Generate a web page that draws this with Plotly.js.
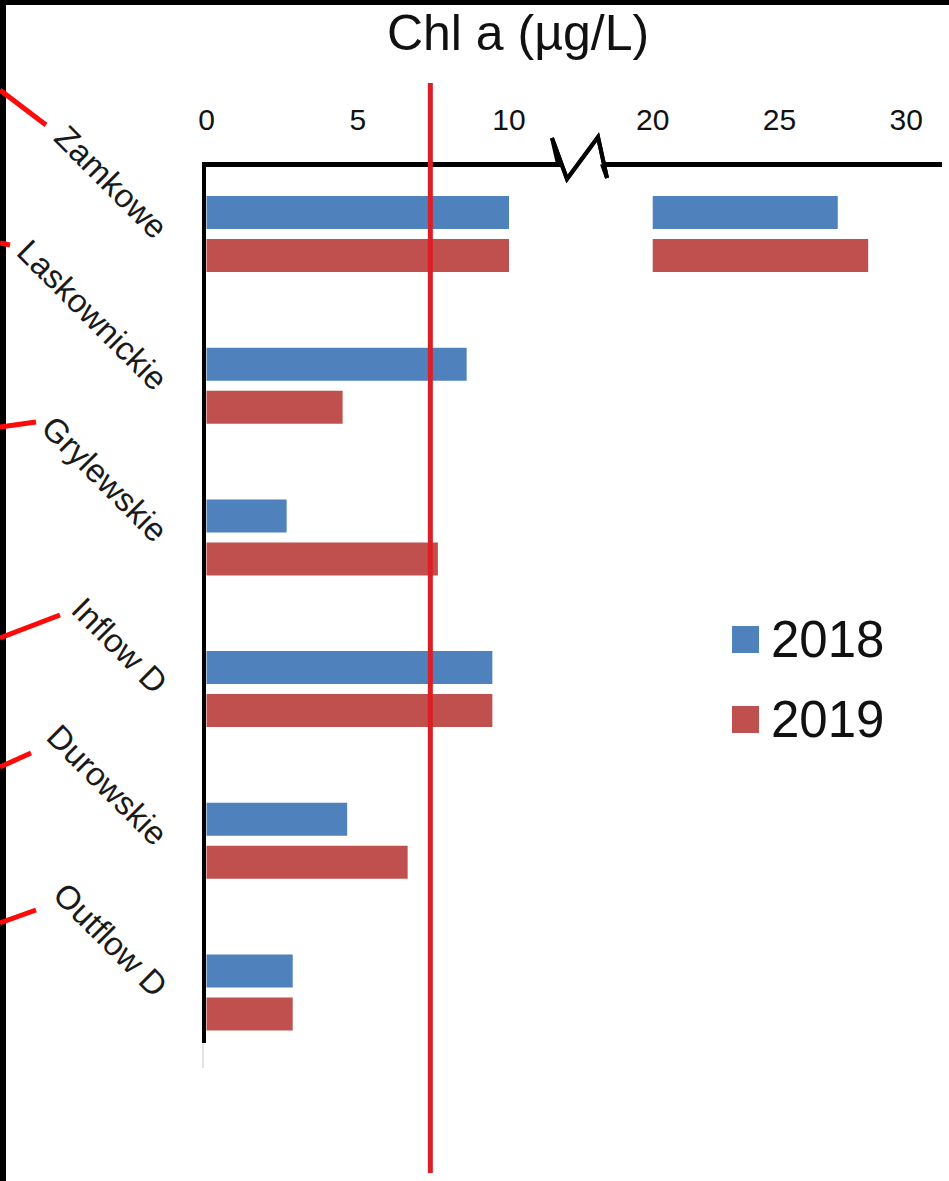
<!DOCTYPE html>
<html>
<head>
<meta charset="utf-8">
<script src="https://cdn.plot.ly/plotly-3.0.1.min.js"></script>
<style>
  html, body { margin: 0; padding: 0; background: #fff; }
  #chart { width: 949px; height: 1181px; }
</style>
</head>
<body>
<div id="chart"></div>
<script>
// Chlorophyll a per site, two sampling years
const sites = ['Zamkowe', 'Laskownickie', 'Grylewskie', 'Inflow D', 'Durowskie', 'Outflow D'];
const years = ['2018', '2019'];
const chl2018 = [27.3, 8.6, 2.65, 9.45, 4.65, 2.85];
const chl2019 = [28.5, 4.5, 7.65, 9.45, 6.65, 2.85];
const threshold = 7.4;            // reference level drawn as vertical line
const axisBreak = [10, 20];       // values between these are cut out of the axis
const lowTicks = [0, 5, 10];
const highTicks = [20, 25, 30];

// ---- page geometry helpers (pixel -> paper) ----
const W = 949, H = 1181;
const px = x => x / W;
const py = y => 1 - y / H;

const FONT = 'Liberation Sans, Arial, sans-serif';
const BLUE = '#4F81BD', RED = '#C0504D';
const seriesColors = [BLUE, RED];
const seriesValues = [chl2018, chl2019];

// Left segment: values clipped at the lower end of the break
const lowPart = v => Math.min(v, axisBreak[0]);
// Right segment: only values past the upper end of the break
const highPart = v => (v > axisBreak[1] ? v - axisBreak[1] : null);

const traces = [];
seriesValues.forEach((vals, i) => {
  traces.push({
    type: 'bar', orientation: 'h',
    name: years[i], y: sites, x: vals.map(lowPart),
    xaxis: 'x', yaxis: 'y',
    marker: { color: seriesColors[i], line: { width: 0 } },
    showlegend: false, hoverinfo: 'skip'
  });
});
seriesValues.forEach((vals, i) => {
  traces.push({
    type: 'bar', orientation: 'h',
    name: years[i], y: sites, x: vals.map(highPart), base: axisBreak[1],
    xaxis: 'x2', yaxis: 'y',
    marker: { color: seriesColors[i], line: { width: 0 } },
    showlegend: false, hoverinfo: 'skip'
  });
});

// scale of each axis segment (px per unit) and where the value origins sit
const lowZeroPx = 206.5, lowScale = 30.25;
const highStartPx = 652.7, highScale = 25.35;
const leftEdgePx = 206, lowEndPx = 562, highBeginPx = 604, rightEndPx = 942;
const axisTopPx = 166.5, axisBottomPx = 1043;
const bandPx = 151.7, firstCatPx = 234;

const xAxisCommon = {
  side: 'top', anchor: 'y', showgrid: false, zeroline: false,
  showline: true, linecolor: '#000', linewidth: 5,
  ticks: '', ticklabelstandoff: 20,
  tickfont: { family: FONT, size: 30, color: '#111' },
  tickmode: 'array', fixedrange: true
};

const shapes = [];
// black frame strips along the top and left edges
shapes.push({ type: 'rect', xref: 'paper', yref: 'paper', x0: 0, x1: 1, y0: py(5), y1: 1,
  fillcolor: '#000', line: { width: 0 }, layer: 'above' });
shapes.push({ type: 'rect', xref: 'paper', yref: 'paper', x0: 0, x1: px(6), y0: 0, y1: 1,
  fillcolor: '#000', line: { width: 0 }, layer: 'above' });
// red leader strokes at the left edge
[[0, 90, 46, 125], [0, 243, 10, 245], [0, 427, 36, 422], [0, 638, 60, 615], [0, 767, 31, 753], [0, 923, 36, 910]]
  .forEach(s => shapes.push({ type: 'line', xref: 'paper', yref: 'paper',
    x0: px(s[0]), y0: py(s[1]), x1: px(s[2]), y1: py(s[3]),
    line: { color: '#ff0a0a', width: 5 }, layer: 'above' }));
// zig-zag break mark on the value axis
shapes.push({ type: 'path', xref: 'paper', yref: 'paper',
  path: `M${px(lowEndPx - 4)},${py(164)} L${px(552)},${py(138)} L${px(567)},${py(179)} L${px(598)},${py(137)} L${px(607)},${py(178)} L${px(highBeginPx - 2)},${py(164)}`,
  line: { color: '#000', width: 4 }, layer: 'above' });
shapes.push({ type: 'path', xref: 'paper', yref: 'paper',
  path: `M${px(552)},${py(138)} L${px(567)},${py(179)} L${px(598)},${py(137)} L${px(607)},${py(178)}`,
  line: { color: '#000', width: 4 }, layer: 'above' });
// threshold line
shapes.push({ type: 'line', xref: 'x', yref: 'paper', x0: threshold, x1: threshold,
  y0: py(1173), y1: py(83), line: { color: '#dc1f27', width: 5 }, layer: 'above' });
// faint continuation of the category axis
shapes.push({ type: 'line', xref: 'paper', yref: 'paper', x0: px(203), x1: px(203),
  y0: py(1068), y1: py(axisBottomPx), line: { color: '#c8c8c8', width: 1 }, layer: 'above' });

// legend: colour squares plus year labels
const annotations = [];
const legendRows = [639, 719];
years.forEach((yr, i) => {
  const cy = legendRows[i];
  shapes.push({ type: 'rect', xref: 'paper', yref: 'paper',
    x0: px(732), x1: px(759), y0: py(cy + 14), y1: py(cy - 13),
    fillcolor: seriesColors[i], line: { width: 0 }, layer: 'above' });
  annotations.push({ xref: 'paper', yref: 'paper', x: px(769), y: py(cy),
    xanchor: 'left', yanchor: 'middle', showarrow: false, text: yr,
    font: { family: FONT, size: 51, color: '#111' } });
});

const layout = {
  width: W, height: H,
  margin: { l: 0, r: 0, t: 0, b: 0 },
  paper_bgcolor: '#fff', plot_bgcolor: '#fff',
  showlegend: false,
  barmode: 'group', bargap: 0.433, bargroupgap: 0.233,
  title: { text: 'Chl a (µg/L)', x: px(518), xanchor: 'center', xref: 'paper',
    y: py(32), yref: 'container', yanchor: 'middle',
    font: { family: FONT, size: 50, color: '#111' } },
  xaxis: Object.assign({}, xAxisCommon, {
    domain: [px(leftEdgePx), px(lowEndPx)],
    range: [(leftEdgePx - lowZeroPx) / lowScale, (lowEndPx - lowZeroPx) / lowScale],
    tickvals: lowTicks
  }),
  xaxis2: Object.assign({}, xAxisCommon, {
    domain: [px(highBeginPx), px(rightEndPx)],
    range: [axisBreak[1] + (highBeginPx - highStartPx) / highScale,
            axisBreak[1] + (rightEndPx - highStartPx) / highScale],
    tickvals: highTicks
  }),
  yaxis: {
    domain: [py(axisBottomPx), py(axisTopPx)],
    type: 'category', categoryarray: sites, categoryorder: 'array',
    range: [(axisBottomPx - firstCatPx) / bandPx, (axisTopPx - firstCatPx) / bandPx],
    showgrid: false, zeroline: false,
    showline: true, linecolor: '#000', linewidth: 4,
    ticks: '', tickangle: 45, ticklabelstandoff: 30,
    tickfont: { family: FONT, size: 33, color: '#1a1a1a' },
    fixedrange: true
  },
  shapes: shapes,
  annotations: annotations
};

Plotly.newPlot('chart', traces, layout, { displayModeBar: false, staticPlot: true });
</script>
</body>
</html>
